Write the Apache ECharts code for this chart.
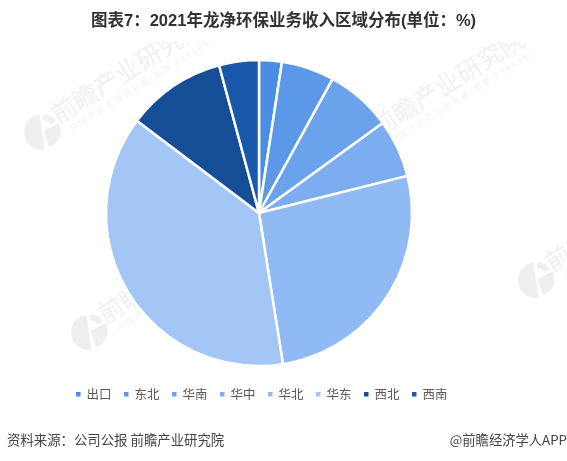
<!DOCTYPE html>
<html>
<head>
<meta charset="utf-8">
<style>
  html, body { margin: 0; padding: 0; background: #fff; }
  #main { width: 567px; height: 461px; }
</style>
<script src="https://cdn.jsdelivr.net/npm/echarts@6/dist/echarts.min.js"></script>
</head>
<body>
<div id="main"></div>
<script>
var categories = ['出口', '东北', '华南', '华中', '华北', '华东', '西北', '西南'];
var shares = [2.4, 5.6, 7.0, 6.1, 26.4, 37.8, 10.5, 4.2];
var colors = ['#4a8de4', '#5b98e8', '#6aa3ec', '#7badf0', '#90baf4', '#a3c6f7', '#154e97', '#1a58aa'];

var titleText = '图表7：2021年龙净环保业务收入区域分布(单位：%)';
var sourceText = '资料来源：公司公报 前瞻产业研究院';
var creditText = '@前瞻经济学人APP';
var markName = '前瞻产业研究院';
var markSub = '中国产业咨询领导者(股票:839599)';
// 水印位置
var markSpots = [[42, 132], [362, 145], [89, 332], [536, 280]];

function rad(d) {
    return d * Math.PI / 180;
}

function watermark(spot) {
    var fill = 'rgba(60,75,100,0.09)';
    return {
        type: 'group',
        x: spot[0],
        y: spot[1],
        rotation: rad(32),
        silent: true,
        z: 100,
        children: [
            { type: 'sector', shape: { cx: 0, cy: 0, r: 18, startAngle: rad(114), endAngle: rad(294) }, style: { fill: fill } },
            { type: 'sector', shape: { cx: 2, cy: 0, r: 17, startAngle: rad(4), endAngle: rad(104) }, style: { fill: fill } },
            { type: 'sector', shape: { cx: 0, cy: 0, r0: 12, r: 18, startAngle: rad(-53), endAngle: rad(-8) }, style: { fill: fill } },
            {
                type: 'text', x: 18, y: -20,
                style: { text: markName, fill: fill, font: '25px "Noto Sans CJK SC"' }
            },
            {
                type: 'text', x: 26, y: 8,
                style: { text: markSub.split('').join(' '), fill: 'rgba(60,75,100,0.08)', font: '8.5px "Noto Sans CJK SC"' }
            }
        ]
    };
}

var chart = echarts.init(document.getElementById('main'), null, { renderer: 'canvas' });
chart.setOption({
    animation: false,
    backgroundColor: '#fff',
    color: colors,
    title: {
        text: titleText,
        left: 86,
        top: 8,
        z: 200,
        textStyle: {
            fontSize: 16.5,
            fontWeight: 'bold',
            color: '#333',
            fontFamily: '"Liberation Sans", "Noto Sans CJK SC"'
        }
    },
    legend: {
        left: 69,
        top: 383,
        icon: 'rect',
        itemWidth: 6.5,
        itemHeight: 6.5,
        itemGap: 10.5,
        selectedMode: false,
        textStyle: {
            fontSize: 12.5,
            color: '#595959',
            fontFamily: '"Noto Sans CJK SC"'
        },
        data: categories
    },
    series: [{
        type: 'pie',
        center: [259, 213],
        radius: [0, 153],
        startAngle: 90,
        clockwise: true,
        label: { show: false },
        labelLine: { show: false },
        itemStyle: { borderColor: '#fff', borderWidth: 2.5 },
        data: categories.map(function (name, i) {
            return { name: name, value: shares[i] };
        })
    }],
    graphic: markSpots.map(watermark).concat([
        // 标题区域盖住水印
        {
            type: 'rect', z: 101, silent: true,
            shape: { x: 0, y: 0, width: 567, height: 42 },
            style: { fill: '#fff' }
        },
        {
            type: 'text', left: 7, top: 433,
            style: { text: sourceText, fill: '#444', font: '13.4px "Noto Sans CJK SC"' }
        },
        {
            type: 'text', right: 0, top: 433,
            style: { text: creditText, fill: '#444', font: '13.3px "Noto Sans CJK SC"' }
        }
    ])
});
</script>
</body>
</html>
